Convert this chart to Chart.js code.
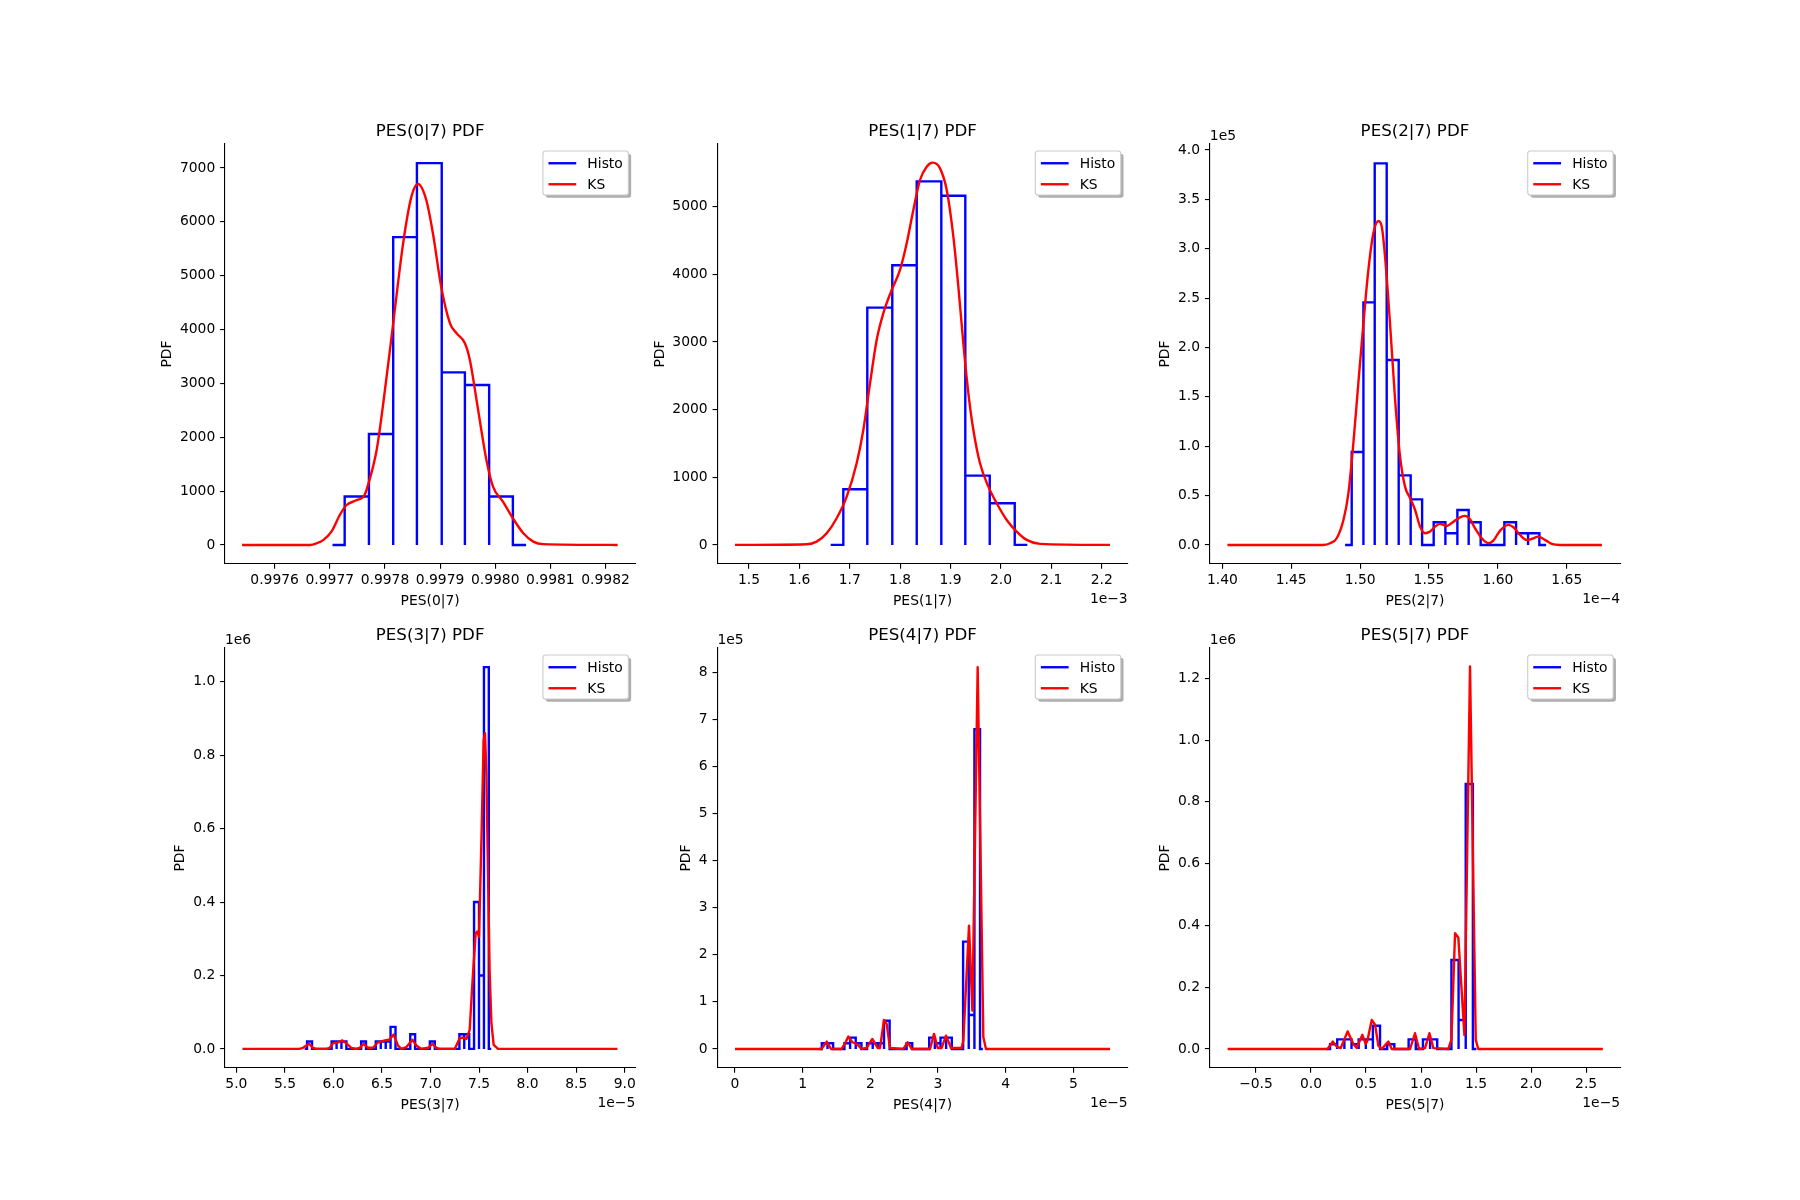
<!DOCTYPE html>
<html><head><meta charset="utf-8">
<script src="https://cdn.jsdelivr.net/npm/chart.js@4.4.1/dist/chart.umd.min.js"></script>
<style>
html,body{margin:0;padding:0;background:#fff;}
#fig{position:relative;width:1800px;height:1200px;overflow:hidden;background:#fff;}
#fig canvas{position:absolute;}
</style></head><body><div id="fig"></div>
<script>
// ---------------- DATA ----------------
// PES(0|7)
const h1Edges = [0.997727, 0.997771, 0.997815, 0.997858, 0.997903, 0.997945, 0.997989, 0.998032];
const h1Heights = [900, 2060, 5715, 7090, 3205, 2970, 900];
const h1Pad = [0.997705, 0.998056];
const k1X = [0.997541, 0.997664, 0.997676, 0.997688, 0.997703, 0.997718, 0.997730, 0.997748, 0.997763, 0.997772, 0.997785, 0.997797, 0.997815, 0.997833, 0.997848, 0.997860, 0.997875, 0.997887, 0.997902, 0.997918, 0.997930, 0.997945, 0.997954, 0.997969, 0.997984, 0.997996, 0.998014, 0.998032, 0.998051, 0.998069, 0.998087, 0.998222];
const k1Y = [0, 0, 30, 90, 247, 551, 737, 830, 928, 1207, 1764, 2631, 4116, 5601, 6467, 6703, 6405, 5787, 4796, 4116, 3930, 3745, 3435, 2506, 1578, 1083, 804, 495, 217, 62, 15, 0];
const x1Lim = [0.99751, 0.998254], y1Lim = [-354, 7445];
const x1Ticks = [0.9976, 0.9977, 0.9978, 0.9979, 0.9980, 0.9981, 0.9982];
const x1Labels = ['0.9976', '0.9977', '0.9978', '0.9979', '0.9980', '0.9981', '0.9982'];
const y1Ticks = [0, 1000, 2000, 3000, 4000, 5000, 6000, 7000];
const y1Labels = ['0', '1000', '2000', '3000', '4000', '5000', '6000', '7000'];

// PES(1|7)  (x in 1e-3)
const h2Edges = [1.6872, 1.7348, 1.7844, 1.8329, 1.8817, 1.9293, 1.9778, 2.0274];
const h2Heights = [823, 3507, 4133, 5374, 5162, 1025, 616];
const h2Pad = [1.6622, 2.0524];
const k2X = [1.4722, 1.6145, 1.6343, 1.6542, 1.6740, 1.6939, 1.7137, 1.7269, 1.7402, 1.7534, 1.7666, 1.7832, 1.7997, 1.8130, 1.8262, 1.8394, 1.8527, 1.8646, 1.8791, 1.8924, 1.9056, 1.9155, 1.9254, 1.9354, 1.9453, 1.9585, 1.9751, 1.9916, 2.0115, 2.0313, 2.0512, 2.0777, 2.2165];
const k2Y = [0, 10, 49, 172, 394, 714, 1207, 1699, 2389, 3029, 3424, 3768, 4064, 4458, 4950, 5394, 5591, 5650, 5566, 5246, 4556, 3818, 2980, 2241, 1699, 1207, 862, 616, 369, 197, 74, 15, 0];
const x2Lim = [1.4373, 2.2516], y2Lim = [-282, 5926];
const x2Ticks = [1.5, 1.6, 1.7, 1.8, 1.9, 2.0, 2.1, 2.2];
const x2Labels = ['1.5', '1.6', '1.7', '1.8', '1.9', '2.0', '2.1', '2.2'];
const y2Ticks = [0, 1000, 2000, 3000, 4000, 5000];
const y2Labels = ['0', '1000', '2000', '3000', '4000', '5000'];

// PES(2|7)  (x in 1e-4, y in 1e5)
const h3Edges = [1.4939, 1.5024, 1.5106, 1.5193, 1.5280, 1.5367, 1.5450, 1.5534, 1.5619, 1.5706, 1.5788, 1.5875, 1.5963, 1.6047, 1.6132, 1.6219, 1.6301];
const h3Heights = [0.942, 2.457, 3.865, 1.873, 0.705, 0.462, 0, 0.230, 0.118, 0.354, 0.230, 0, 0, 0.230, 0.118, 0.118];
const h3Pad = [1.4891, 1.6350];
const k3X = [1.4037, 1.4733, 1.4782, 1.4830, 1.4879, 1.4915, 1.4951, 1.4987, 1.5024, 1.5060, 1.5096, 1.5133, 1.5157, 1.5181, 1.5217, 1.5254, 1.5290, 1.5326, 1.5363, 1.5399, 1.5435, 1.5471, 1.5508, 1.5544, 1.5580, 1.5629, 1.5677, 1.5726, 1.5762, 1.5798, 1.5834, 1.5883, 1.5931, 1.5967, 1.6016, 1.6076, 1.6113, 1.6161, 1.6209, 1.6246, 1.6294, 1.6342, 1.6391, 1.6452, 1.6755];
const k3Y = [0, 0, 0.017, 0.068, 0.253, 0.523, 1.030, 1.637, 2.245, 2.785, 3.156, 3.281, 3.224, 2.920, 2.245, 1.468, 0.894, 0.591, 0.473, 0.354, 0.186, 0.118, 0.135, 0.186, 0.213, 0.192, 0.236, 0.280, 0.294, 0.260, 0.169, 0.068, 0.017, 0.044, 0.145, 0.203, 0.179, 0.101, 0.051, 0.061, 0.084, 0.051, 0.010, 0, 0];
const x3Lim = [1.3909, 1.6887], y3Lim = [-0.193, 4.061];
const x3Ticks = [1.40, 1.45, 1.50, 1.55, 1.60, 1.65];
const x3Labels = ['1.40', '1.45', '1.50', '1.55', '1.60', '1.65'];
const y3Ticks = [0, 0.5, 1.0, 1.5, 2.0, 2.5, 3.0, 3.5, 4.0];
const y3Labels = ['0.0', '0.5', '1.0', '1.5', '2.0', '2.5', '3.0', '3.5', '4.0'];

// PES(3|7)  (x in 1e-5, y in 1e6)
const h4Edges = [5.728, 5.779, 5.829, 5.880, 5.930, 5.981, 6.032, 6.082, 6.133, 6.183, 6.234, 6.285, 6.335, 6.386, 6.436, 6.487, 6.538, 6.588, 6.639, 6.689, 6.740, 6.791, 6.841, 6.892, 6.942, 6.993, 7.044, 7.094, 7.145, 7.195, 7.246, 7.297, 7.347, 7.398, 7.448, 7.499, 7.550, 7.600];
const h4Heights = [0.02, 0, 0, 0, 0, 0.02, 0.02, 0.02, 0, 0, 0, 0.02, 0, 0, 0.02, 0.02, 0.02, 0.06, 0, 0, 0, 0.04, 0, 0, 0, 0.02, 0, 0, 0, 0, 0, 0.04, 0.04, 0, 0.40, 0.20, 1.04];
const h4Pad = [5.703, 7.625];
const k4X = [5.062, 5.65, 5.686, 5.748, 5.789, 5.824, 5.93, 5.961, 5.995, 6.047, 6.092, 6.133, 6.184, 6.236, 6.270, 6.311, 6.356, 6.407, 6.459, 6.528, 6.572, 6.620, 6.665, 6.699, 6.751, 6.813, 6.854, 6.905, 6.974, 7.019, 7.060, 7.094, 7.249, 7.300, 7.334, 7.369, 7.403, 7.437, 7.465, 7.482, 7.499, 7.524, 7.547, 7.561, 7.575, 7.592, 7.609, 7.627, 7.650, 7.695, 8.925];
const k4Y = [0, 0, 0.003, 0.014, 0.003, 0, 0, 0.003, 0.015, 0.018, 0.023, 0.015, 0.003, 0, 0.003, 0.014, 0.003, 0.003, 0.018, 0.023, 0.025, 0.039, 0.009, 0, 0.005, 0.025, 0.009, 0, 0.003, 0.014, 0.003, 0, 0, 0.029, 0.031, 0.027, 0.052, 0.206, 0.315, 0.32, 0.305, 0.569, 0.841, 0.86, 0.75, 0.478, 0.206, 0.07, 0.011, 0, 0];
const x4Lim = [4.8826, 9.109], y4Lim = [-0.052, 1.092];
const x4Ticks = [5.0, 5.5, 6.0, 6.5, 7.0, 7.5, 8.0, 8.5, 9.0];
const x4Labels = ['5.0', '5.5', '6.0', '6.5', '7.0', '7.5', '8.0', '8.5', '9.0'];
const y4Ticks = [0, 0.2, 0.4, 0.6, 0.8, 1.0];
const y4Labels = ['0.0', '0.2', '0.4', '0.6', '0.8', '1.0'];

// PES(4|7)  (x in 1e-5, y in 1e5)
const h5Edges = [1.283, 1.367, 1.450, 1.534, 1.617, 1.701, 1.784, 1.868, 1.951, 2.035, 2.118, 2.202, 2.285, 2.369, 2.452, 2.536, 2.619, 2.703, 2.786, 2.870, 2.953, 3.037, 3.120, 3.204, 3.287, 3.371, 3.454, 3.538, 3.621];
const h5Heights = [0.12, 0.12, 0, 0, 0.12, 0.24, 0.12, 0, 0.12, 0.12, 0.12, 0.60, 0, 0, 0, 0.12, 0, 0, 0, 0.24, 0.12, 0.24, 0.24, 0, 0, 2.28, 0.72, 6.79];
const h5Pad = [1.241, 3.663];
const k5X = [0, 1.25, 1.281, 1.355, 1.419, 1.576, 1.626, 1.675, 1.734, 1.798, 1.872, 1.946, 2.029, 2.108, 2.143, 2.202, 2.241, 2.291, 2.488, 2.552, 2.611, 2.882, 2.941, 2.995, 3.054, 3.118, 3.192, 3.349, 3.374, 3.458, 3.508, 3.586, 3.670, 3.709, 5.542];
const k5Y = [0, 0, 0, 0.156, 0, 0, 0.12, 0.262, 0.142, 0.106, 0, 0.021, 0.212, 0.021, 0.021, 0.616, 0.531, 0.021, 0, 0.142, 0, 0, 0.319, 0.021, 0.021, 0.283, 0.021, 0.021, 0.177, 2.62, 0.814, 8.107, 0.248, 0, 0];
const x5Lim = [-0.260, 5.803], y5Lim = [-0.405, 8.517];
const x5Ticks = [0, 1, 2, 3, 4, 5];
const x5Labels = ['0', '1', '2', '3', '4', '5'];
const y5Ticks = [0, 1, 2, 3, 4, 5, 6, 7, 8];
const y5Labels = ['0', '1', '2', '3', '4', '5', '6', '7', '8'];

// PES(5|7)  (x in 1e-5, y in 1e6)
const h6Edges = [0.173, 0.238, 0.303, 0.368, 0.433, 0.498, 0.562, 0.627, 0.692, 0.757, 0.822, 0.887, 0.952, 1.017, 1.082, 1.147, 1.211, 1.276, 1.341, 1.406, 1.471];
const h6Heights = [0.0154, 0.031, 0.031, 0.0154, 0.031, 0.031, 0.0755, 0, 0.0154, 0, 0, 0.031, 0, 0.031, 0.031, 0, 0, 0.288, 0.094, 0.858];
const h6Pad = [0.141, 1.503];
const k6X = [-0.758, 0.15, 0.197, 0.233, 0.270, 0.333, 0.385, 0.415, 0.467, 0.497, 0.512, 0.552, 0.582, 0.612, 0.642, 0.703, 0.733, 0.9, 0.945, 0.982, 1.036, 1.076, 1.112, 1.248, 1.276, 1.309, 1.339, 1.394, 1.445, 1.497, 1.52, 2.652];
const k6Y = [0, 0, 0.024, 0.008, 0.003, 0.057, 0.016, 0.003, 0.046, 0.016, 0.027, 0.094, 0.079, 0.011, 0, 0.024, 0, 0, 0.051, 0, 0.003, 0.051, 0.003, 0, 0.03, 0.375, 0.36, 0.045, 1.238, 0.03, 0, 0];
const x6Lim = [-0.92, 2.809], y6Lim = [-0.0615, 1.298];
const x6Ticks = [-0.5, 0, 0.5, 1.0, 1.5, 2.0, 2.5];
const x6Labels = ['\u22120.5', '0.0', '0.5', '1.0', '1.5', '2.0', '2.5'];
const y6Ticks = [0, 0.2, 0.4, 0.6, 0.8, 1.0, 1.2];
const y6Labels = ['0.0', '0.2', '0.4', '0.6', '0.8', '1.0', '1.2'];

const titles = ['PES(0|7) PDF', 'PES(1|7) PDF', 'PES(2|7) PDF', 'PES(3|7) PDF', 'PES(4|7) PDF', 'PES(5|7) PDF'];
const xNames = ['PES(0|7)', 'PES(1|7)', 'PES(2|7)', 'PES(3|7)', 'PES(4|7)', 'PES(5|7)'];
const xOffsets = ['', '1e\u22123', '1e\u22124', '1e\u22125', '1e\u22125', '1e\u22125'];
const yOffsets = ['', '', '1e5', '1e6', '1e5', '1e6'];
const legendLabels = ['Histo', 'KS'];

// ---------------- LAYOUT / STYLE ----------------
const FONT = "'DejaVu Sans', sans-serif";
const PT = 100 / 72;
const TICK_LEN = 3.5 * PT, TICK_PAD = 3.5 * PT, LABEL_PAD = 4 * PT;
const FS = 10 * PT, TFS = 12 * PT, LW = 2.4, AXLW = 0.8 * PT;
const COLS = [225.0, 717.4, 1209.8], ROWS = [144, 648], AX_W = 410.3, AX_H = 420;
const BLUE = '#0000ff', RED = '#ff0000';

function histPoints(edges, heights, pad) {
  const pts = [{x: pad[0], y: 0}];
  for (let i = 0; i < heights.length; i++) {
    pts.push({x: edges[i], y: 0}, {x: edges[i], y: heights[i]},
             {x: edges[i + 1], y: heights[i]}, {x: edges[i + 1], y: 0});
  }
  pts.push({x: pad[1], y: 0});
  return pts;
}
function curvePoints(xs, ys) { return xs.map((x, i) => ({x: x, y: ys[i]})); }

function roundRect(ctx, x, y, w, h, r) {
  ctx.beginPath();
  ctx.moveTo(x + r, y);
  ctx.lineTo(x + w - r, y); ctx.arcTo(x + w, y, x + w, y + r, r);
  ctx.lineTo(x + w, y + h - r); ctx.arcTo(x + w, y + h, x + w - r, y + h, r);
  ctx.lineTo(x + r, y + h); ctx.arcTo(x, y + h, x, y + h - r, r);
  ctx.lineTo(x, y + r); ctx.arcTo(x, y, x + r, y, r);
  ctx.closePath();
}

function drawDecor(chart, s) {
  const ctx = chart.ctx, a = chart.chartArea;
  ctx.save();
  ctx.fillStyle = '#000';
  ctx.textBaseline = 'alphabetic';
  // title
  ctx.font = TFS + 'px ' + FONT;
  ctx.textAlign = 'center';
  ctx.fillText(s.title, (a.left + a.right) / 2, a.top - 6 * PT);
  // x label
  ctx.font = FS + 'px ' + FONT;
  ctx.fillText(s.xlabel, (a.left + a.right) / 2, a.bottom + 41);
  if (s.xoff) { ctx.textAlign = 'right'; ctx.fillText(s.xoff, a.right, a.bottom + 39.3); }
  if (s.yoff) { ctx.textAlign = 'left'; ctx.fillText(s.yoff, a.left, a.top - 4); }
  // y label
  let maxW = 0;
  for (const l of s.yl) maxW = Math.max(maxW, ctx.measureText(l).width);
  const xb = a.left - TICK_LEN - TICK_PAD - maxW - LABEL_PAD - 0.236 * FS;
  ctx.save();
  ctx.translate(xb, (a.top + a.bottom) / 2);
  ctx.rotate(-Math.PI / 2);
  ctx.textAlign = 'center';
  ctx.fillText('PDF', 0, 0);
  ctx.restore();
  // legend
  ctx.font = FS + 'px ' + FONT;
  let tw = 0;
  for (const l of legendLabels) tw = Math.max(tw, ctx.measureText(l).width);
  const W = 0.4 * FS + 2 * FS + 0.8 * FS + tw + 0.4 * FS, H = 44;
  const lx = a.right - 0.5 * FS - W, ly = a.top + 0.5 * FS, r = 0.2 * FS;
  roundRect(ctx, lx + 2 * PT, ly + 2 * PT, W, H, r);
  ctx.fillStyle = 'rgba(0,0,0,0.32)'; ctx.fill();
  roundRect(ctx, lx, ly, W, H, r);
  ctx.fillStyle = '#ffffff'; ctx.fill();
  ctx.strokeStyle = '#cccccc'; ctx.lineWidth = AXLW; ctx.stroke();
  const rows = [[legendLabels[0], BLUE, 12.3], [legendLabels[1], RED, 33.3]];
  for (const [t, c, dy] of rows) {
    const x0 = lx + 0.4 * FS, yy = ly + dy;
    ctx.strokeStyle = c; ctx.lineWidth = LW; ctx.lineCap = 'butt';
    ctx.beginPath(); ctx.moveTo(x0, yy); ctx.lineTo(x0 + 2 * FS, yy); ctx.stroke();
    ctx.fillStyle = '#000'; ctx.textAlign = 'left';
    ctx.fillText(t, x0 + 2.8 * FS, yy + 4.5);
  }
  ctx.restore();
}

const specs = [
  {edges: h1Edges, heights: h1Heights, pad: h1Pad, kx: k1X, ky: k1Y, xlim: x1Lim, ylim: y1Lim, xt: x1Ticks, xl: x1Labels, yt: y1Ticks, yl: y1Labels, smooth: true},
  {edges: h2Edges, heights: h2Heights, pad: h2Pad, kx: k2X, ky: k2Y, xlim: x2Lim, ylim: y2Lim, xt: x2Ticks, xl: x2Labels, yt: y2Ticks, yl: y2Labels, smooth: true},
  {edges: h3Edges, heights: h3Heights, pad: h3Pad, kx: k3X, ky: k3Y, xlim: x3Lim, ylim: y3Lim, xt: x3Ticks, xl: x3Labels, yt: y3Ticks, yl: y3Labels, smooth: true},
  {edges: h4Edges, heights: h4Heights, pad: h4Pad, kx: k4X, ky: k4Y, xlim: x4Lim, ylim: y4Lim, xt: x4Ticks, xl: x4Labels, yt: y4Ticks, yl: y4Labels, smooth: false},
  {edges: h5Edges, heights: h5Heights, pad: h5Pad, kx: k5X, ky: k5Y, xlim: x5Lim, ylim: y5Lim, xt: x5Ticks, xl: x5Labels, yt: y5Ticks, yl: y5Labels, smooth: false},
  {edges: h6Edges, heights: h6Heights, pad: h6Pad, kx: k6X, ky: k6Y, xlim: x6Lim, ylim: y6Lim, xt: x6Ticks, xl: x6Labels, yt: y6Ticks, yl: y6Labels, smooth: false}
];

const fig = document.getElementById('fig');
specs.forEach((s, idx) => {
  s.title = titles[idx]; s.xlabel = xNames[idx]; s.xoff = xOffsets[idx]; s.yoff = yOffsets[idx];
  const axL = COLS[idx % 3], axT = ROWS[Math.floor(idx / 3)];
  const ML = 100, MT = 50, MR = 12, MB = 64;
  const cl = Math.round(axL - ML), ct = Math.round(axT - MT);
  const padL = axL - cl, padT = axT - ct;
  const cw = Math.ceil(padL + AX_W + MR), ch = Math.ceil(padT + AX_H + MB);
  const rightPad = cw - padL - AX_W, bottomH = ch - padT - AX_H;
  const canvas = document.createElement('canvas');
  canvas.width = cw; canvas.height = ch;
  canvas.style.left = cl + 'px'; canvas.style.top = ct + 'px';
  canvas.style.width = cw + 'px'; canvas.style.height = ch + 'px';
  fig.appendChild(canvas);

  const tickFont = {family: FONT, size: FS};
  const gridOpt = {display: true, drawOnChartArea: false, drawTicks: true, tickLength: TICK_LEN, color: '#000', lineWidth: AXLW};
  const borderOpt = {display: true, color: '#000', width: AXLW};

  new Chart(canvas.getContext('2d'), {
    type: 'scatter',
    data: {datasets: [
      {label: legendLabels[1], data: curvePoints(s.kx, s.ky), showLine: true, borderColor: RED, backgroundColor: RED,
       borderWidth: LW, pointRadius: 0, pointHoverRadius: 0, tension: 0,
       cubicInterpolationMode: s.smooth ? 'monotone' : 'default', borderJoinStyle: 'round', order: 0},
      {label: legendLabels[0], data: histPoints(s.edges, s.heights, s.pad), showLine: true, borderColor: BLUE, backgroundColor: BLUE,
       borderWidth: LW, pointRadius: 0, pointHoverRadius: 0, tension: 0, borderJoinStyle: 'miter', order: 1}
    ]},
    options: {
      responsive: false, animation: false, devicePixelRatio: 1,
      events: [],
      layout: {padding: {left: 0, top: padT, right: rightPad, bottom: 0}},
      plugins: {legend: {display: false}, tooltip: {enabled: false}, title: {display: false}},
      scales: {
        x: {
          type: 'linear', position: 'bottom', min: s.xlim[0], max: s.xlim[1],
          afterFit: (sc) => { sc.height = bottomH; sc.paddingLeft = 0; sc.paddingRight = 0; },
          afterBuildTicks: (sc) => { sc.ticks = s.xt.map(v => ({value: v})); },
          ticks: {callback: (v, i) => s.xl[i], font: tickFont, color: '#000', padding: 3.5, maxRotation: 0, minRotation: 0, autoSkip: false},
          grid: gridOpt, border: borderOpt
        },
        y: {
          type: 'linear', position: 'left', min: s.ylim[0], max: s.ylim[1],
          afterFit: (sc) => { sc.width = padL; sc.paddingTop = 0; sc.paddingBottom = 0; },
          afterBuildTicks: (sc) => { sc.ticks = s.yt.map(v => ({value: v})); },
          ticks: {callback: (v, i) => s.yl[i], font: tickFont, color: '#000', padding: TICK_PAD, autoSkip: false},
          grid: gridOpt, border: borderOpt
        }
      }
    },
    plugins: [{id: 'decor' + idx, afterDraw: (chart) => drawDecor(chart, s)}]
  });
});
</script></body></html>
